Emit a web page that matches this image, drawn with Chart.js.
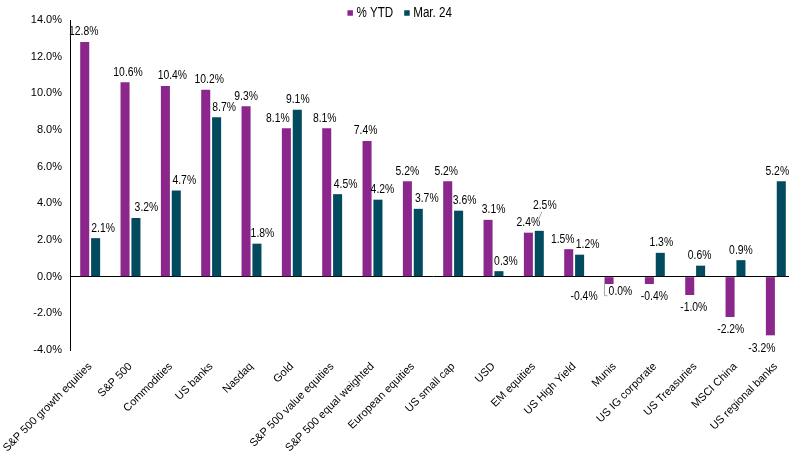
<!DOCTYPE html>
<html>
<head>
<meta charset="utf-8">
<script src="https://cdn.jsdelivr.net/npm/chart.js@4/dist/chart.umd.min.js"></script>
<style>
  html, body { margin: 0; padding: 0; background: #fff; overflow: hidden; }
  #wrap { width: 789px; height: 465px; overflow: hidden; position: relative; }
  canvas { display: block; }
</style>
</head>
<body>
<div id="wrap"><canvas id="c" width="796" height="465"></canvas></div>
<script>
const categories = [
  "S&P 500 growth equities", "S&P 500", "Commodities", "US banks", "Nasdaq", "Gold",
  "S&P 500 value equities", "S&P 500 equal weighted", "European equities", "US small cap",
  "USD", "EM equities", "US High Yield", "Munis", "US IG corporate", "US Treasuries",
  "MSCI China", "US regional banks"
];
const ytdValues = [12.8, 10.6, 10.4, 10.2, 9.3, 8.1, 8.1, 7.4, 5.2, 5.2, 3.1, 2.4, 1.5, -0.4, -0.4, -1.0, -2.2, -3.2];
const mar24Values = [2.1, 3.2, 4.7, 8.7, 1.8, 9.1, 4.5, 4.2, 3.7, 3.6, 0.3, 2.5, 1.2, 0.0, 1.3, 0.6, 0.9, 5.2];
const seriesNames = ["% YTD", "Mar. 24"];
const yTicks = [-4, -2, 0, 2, 4, 6, 8, 10, 12, 14];

const FONT = "'Liberation Sans', Arial, sans-serif";
const PINK = '#8B278C';
const TEAL = '#024A5E';
const NARROW = 0.83; // horizontal squeeze to mimic Arial Narrow

// label nudges (horizontal px) to mimic the manually placed labels
const labelDx = [
  [-1, 3, 7, 3.5, 0, -8.5, -2, -1.5, 0, -1.5, 5.5, 0, -6, -25, 5, 4, 0.7, -8.5],
  [7.5, 10.5, 8, 7.5, 5.5, 0.5, 8, 4.5, 8.5, 6, 7, 5.5, 8, 0.5, 1, -1, 0, -4]
];

function narrowText(ctx, txt, x, y, align) {
  ctx.save();
  ctx.translate(x, y);
  ctx.scale(NARROW, 1);
  ctx.textAlign = align || 'center';
  ctx.fillText(txt, 0, 0);
  ctx.restore();
}

const labelPlugin = {
  id: 'barLabels',
  afterDatasetsDraw(chart) {
    const ctx = chart.ctx;
    ctx.save();
    ctx.font = "12.5px " + FONT;
    ctx.fillStyle = '#000';
    ctx.textBaseline = 'middle';
    chart.data.datasets.forEach((ds, di) => {
      const meta = chart.getDatasetMeta(di);
      meta.data.forEach((bar, i) => {
        const v = ds.data[i];
        const txt = v.toFixed(1) + '%';
        let x = bar.x + labelDx[di][i];
        let y = v > 0 ? bar.y - 10 : bar.y + 13;
        if (di === 1 && i === 11) {
          y = bar.y - 25;
          ctx.save();
          ctx.strokeStyle = '#a6a6a6'; ctx.lineWidth = 1;
          ctx.beginPath();
          ctx.moveTo(bar.x - 1.5, bar.y - 9);
          ctx.lineTo(bar.x + 2.5, bar.y - 19);
          ctx.stroke();
          ctx.restore();
        }
        if (di === 1 && i === 13) {
          y = bar.y + 15;
          ctx.save();
          ctx.strokeStyle = '#a6a6a6'; ctx.lineWidth = 1;
          ctx.beginPath();
          ctx.moveTo(bar.x - 15.5, bar.y + 6);
          ctx.lineTo(bar.x - 15.5, bar.y + 19);
          ctx.lineTo(bar.x - 12.5, bar.y + 19);
          ctx.stroke();
          ctx.restore();
        }
        narrowText(ctx, txt, x, y, 'center');
      });
    });
    ctx.restore();
  }
};

const legendPlugin = {
  id: 'topLegend',
  afterDraw(chart) {
    const ctx = chart.ctx;
    ctx.save();
    ctx.font = "14px " + FONT;
    ctx.textBaseline = 'middle';
    const box = 5.5, gapText = 3.5, gapItem = 11;
    const items = chart.data.datasets.map(d => ({ text: d.label, color: d.backgroundColor, w: ctx.measureText(d.label).width * NARROW }));
    let total = 0;
    items.forEach((it, k) => { total += box + gapText + it.w + (k ? gapItem : 0); });
    let x = 399.7 - total / 2;
    const yc = 13;
    items.forEach((it, k) => {
      if (k) x += gapItem;
      ctx.fillStyle = it.color;
      ctx.fillRect(x, yc - box / 2, box, box);
      x += box + gapText;
      ctx.fillStyle = '#000';
      narrowText(ctx, it.text, x, yc, 'left');
      x += it.w;
    });
    ctx.restore();
  }
};

new Chart(document.getElementById('c'), {
  type: 'bar',
  data: {
    labels: categories,
    datasets: [
      { label: seriesNames[0], data: ytdValues, backgroundColor: PINK, borderWidth: 0,
        categoryPercentage: 0.54, barPercentage: 0.83 },
      { label: seriesNames[1], data: mar24Values, backgroundColor: TEAL, borderWidth: 0,
        categoryPercentage: 0.54, barPercentage: 0.83 }
    ]
  },
  options: {
    responsive: false,
    animation: false,
    devicePixelRatio: 1,
    layout: { padding: { top: 20, right: 0, left: 0, bottom: 0 } },
    plugins: {
      legend: { display: false },
      tooltip: { enabled: false }
    },
    scales: {
      x: {
        grid: { display: false, drawTicks: false },
        border: { display: false },
        ticks: {
          autoSkip: false, maxRotation: 45, minRotation: 45,
          color: '#000', padding: 10,
          font: { family: FONT, size: 11 }
        },
        afterFit(scale) { scale.height = 115; scale.paddingLeft = 0; scale.paddingRight = 0; }
      },
      y: {
        min: -4, max: 14,
        afterBuildTicks(scale) { scale.ticks = yTicks.map(v => ({ value: v })); },
        grid: {
          drawTicks: false,
          color: c => (c.tick && c.tick.value === 0) ? '#000' : 'rgba(0,0,0,0)',
          lineWidth: 1
        },
        border: { display: true, color: '#000', width: 1 },
        ticks: {
          color: '#000', padding: 8,
          font: { family: FONT, size: 11 },
          callback: v => v.toFixed(1) + '%'
        },
        afterFit(scale) { scale.width = 70; }
      }
    }
  },
  plugins: [labelPlugin, legendPlugin]
});
</script>
</body>
</html>
